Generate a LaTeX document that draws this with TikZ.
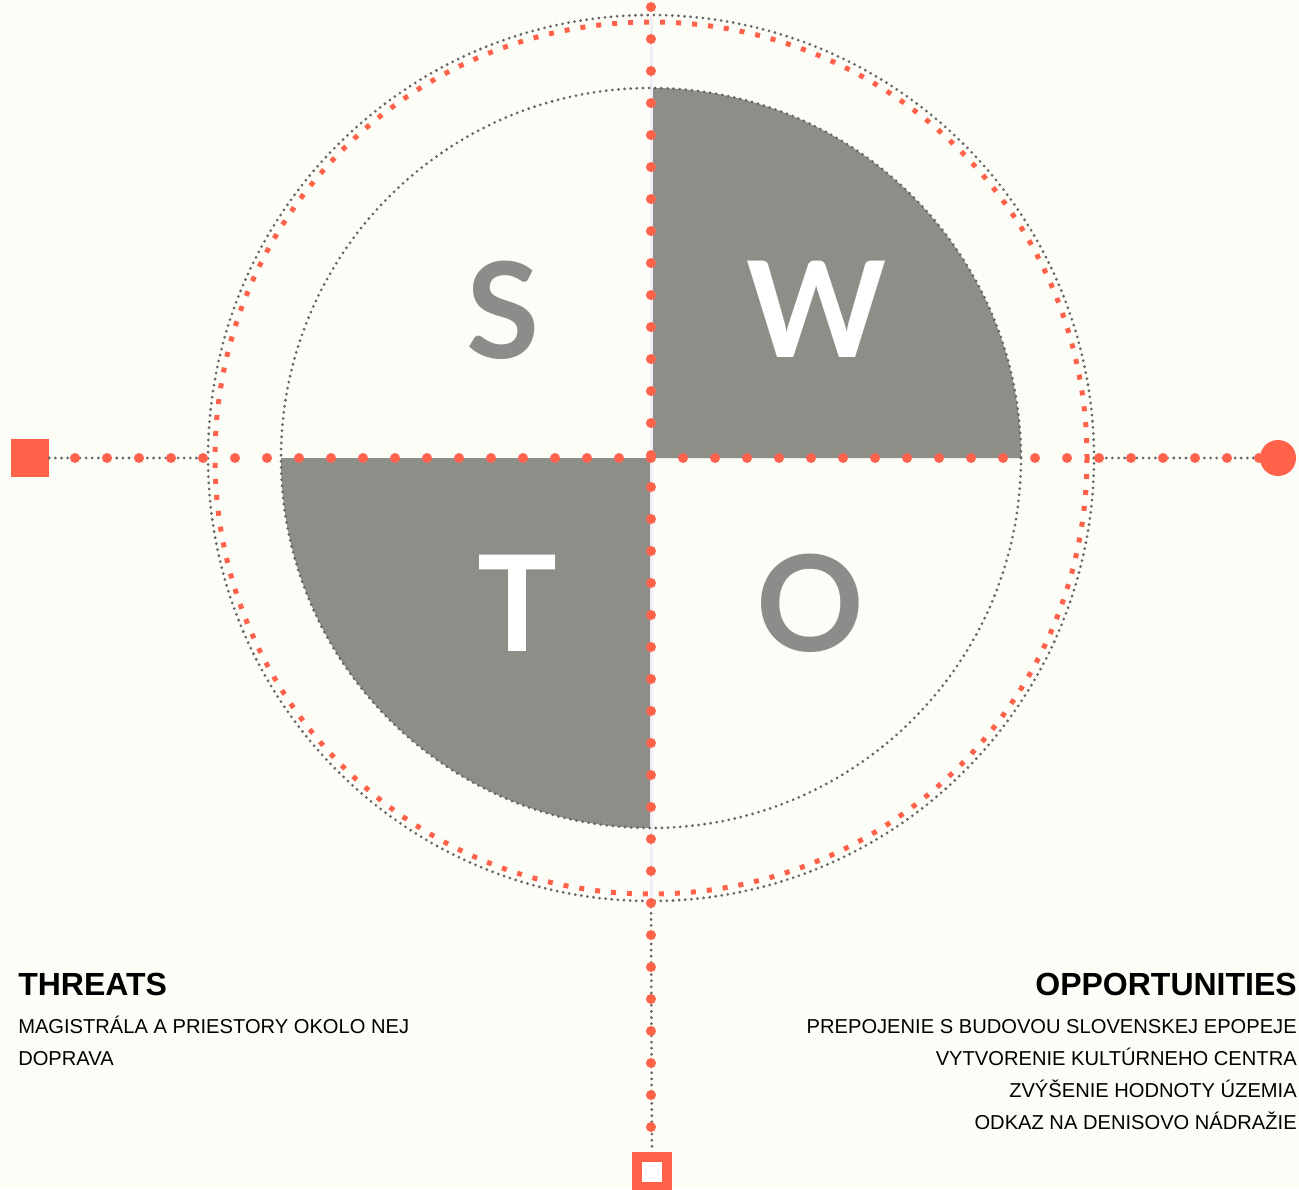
\documentclass[tikz,border=0pt]{standalone}
\usepackage{fontspec}
\setmainfont{Liberation Sans}
\newfontfamily\swotfont{Lato}
\usepackage{xcolor}
\definecolor{coral}{HTML}{FF6249}
\definecolor{swotgray}{HTML}{8E8E89}
\definecolor{lettergray}{HTML}{8C8C8A}
\definecolor{dotgray}{HTML}{666666}
\definecolor{paper}{HTML}{FDFDF8}
\definecolor{axisline}{HTML}{EEEEF3}

\begin{document}
\begin{tikzpicture}[x=0.75pt,y=0.75pt,yscale=-1,xscale=1,
    graydots/.style={dotgray, line width=2.3pt, line cap=round, dash pattern=on 0pt off 4.6pt},
    reddash/.style={coral, line width=3.75pt, dash pattern=on 3.75pt off 8.25pt},
    reddot/.style={circle, fill=coral, inner sep=0pt, minimum size=7.5pt},
    bigletter/.style={anchor=base, inner sep=0pt, font=\swotfont\bfseries\fontsize{100}{100}\selectfont},
    headline/.style={inner sep=0pt, font=\bfseries\fontsize{24}{27}\selectfont},
    bodytext/.style={inner sep=0pt, font=\fontsize{15.1}{24}\selectfont}]
    \useasboundingbox (0,0) rectangle (1299,1189);
    \fill [paper] (0,0) rectangle (1299,1189);
    \coordinate (c) at (651,458);
    % filled quadrants W and T
    \fill [swotgray] (c) -- ++(0,-370) arc [start angle=270, end angle=360, radius=370] -- cycle;
    \fill [swotgray] (c) -- ++(-370,0) arc [start angle=180, end angle=90, radius=370] -- cycle;
    \draw [axisline, line width=2.25pt] (651,16) -- (651,903);
    % rings
    \draw [graydots] (c) circle [radius=370];
    \node [circle, draw, graydots, inner sep=0pt, outer sep=0pt, minimum size=664.5pt] (ring) at (c) {};
    \draw [reddash] (c) circle [radius=436];
    % end markers
    \node [rectangle, fill=coral, inner sep=0pt, minimum size=28.5pt] (thr) at (30,458) {};
    \node [circle, fill=coral, inner sep=0pt, minimum size=27pt] (opp) at (1278,458) {};
    \node [rectangle, draw=coral, fill=white, line width=7.5pt, inner sep=0pt, minimum size=22.5pt] (bot) at (652,1172) {};
    \draw [graydots] (thr) -- (ring.west);
    \draw [graydots] (ring.east) -- (opp);
    \draw [graydots] (ring.south) -- (bot);
    % red dots on the axes
    \foreach \k in {-18,...,19}
        \node [reddot] at (651+32*\k,458) {};
    \foreach \k in {-14,...,21}
        \node [reddot] at (651,455+32*\k) {};
    % letters
    \node [bigletter, text=lettergray] (S) at (503,358) {S};
    \node [bigletter, text=white] (W) at (817,357) {W};
    \node [bigletter, text=white] (T) at (517,651) {T};
    \node [bigletter, text=lettergray] (O) at (810,651) {O};
    % captions
    \node [headline, anchor=base west] (threats) at (18,995) {THREATS};
    \node [bodytext, anchor=base west, align=left] (threatlist) at (18,1065) {MAGISTRÁLA A PRIESTORY OKOLO NEJ\\DOPRAVA};
    \node [headline, anchor=base east] (opport) at (1297,995) {OPPORTUNITIES};
    \node [bodytext, anchor=base east, align=right] (opplist) at (1297,1129) {PREPOJENIE S BUDOVOU SLOVENSKEJ EPOPEJE\\VYTVORENIE KULTÚRNEHO CENTRA\\ZVÝŠENIE HODNOTY ÚZEMIA\\ODKAZ NA DENISOVO NÁDRAŽIE};
\end{tikzpicture}
\end{document}
